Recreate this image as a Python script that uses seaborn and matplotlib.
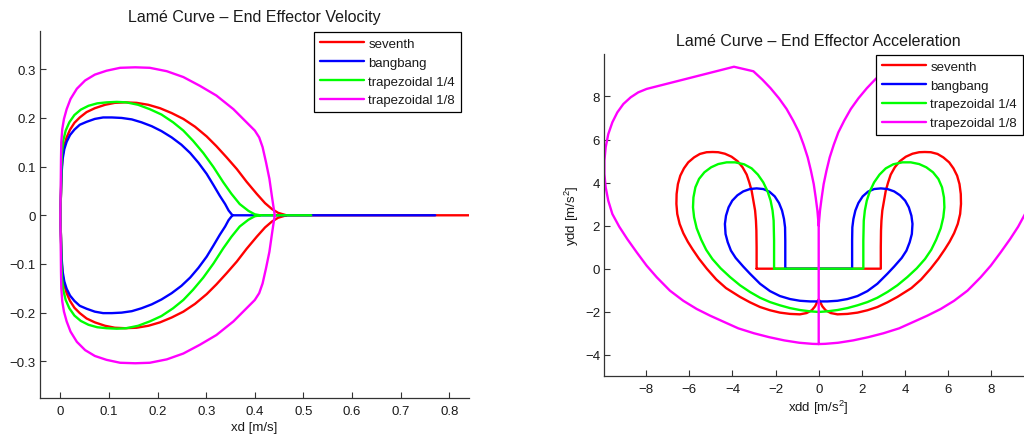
import matplotlib
matplotlib.use("Agg")
import matplotlib.pyplot as plt
import pandas as pd
import seaborn as sns
from matplotlib.lines import Line2D

# ---------------------------------------------------------------- series
series_names = ["seventh", "bangbang", "trapezoidal 1/4", "trapezoidal 1/8"]
series_colors = ["#ff0000", "#0000ff", "#00ff00", "#ff00ff"]

# ---------------------------------------------------------------- velocity (xd, yd) loops
# upper branch from the origin to where the loop closes on yd = 0,
# lower branch over the same xd positions
seventh_vx = [0, 0.0014, 0.0027, 0.0048, 0.0082, 0.013, 0.020, 0.029, 0.040, 0.054,
              0.071, 0.092, 0.112, 0.133, 0.157, 0.181, 0.205, 0.229, 0.253, 0.277,
              0.301, 0.321, 0.342, 0.363, 0.383, 0.404, 0.421, 0.435, 0.448, 0.465]
seventh_vy_up = [0, 0.047, 0.095, 0.123, 0.143, 0.160, 0.176, 0.190, 0.201, 0.212,
                 0.220, 0.227, 0.231, 0.232, 0.231, 0.227, 0.220, 0.210, 0.198, 0.182,
                 0.162, 0.142, 0.119, 0.095, 0.069, 0.044, 0.025, 0.013, 0.005, 0]
seventh_vy_lo = [0, -0.047, -0.095, -0.123, -0.143, -0.160, -0.176, -0.190, -0.201, -0.212,
                 -0.220, -0.227, -0.231, -0.232, -0.231, -0.227, -0.220, -0.210, -0.198, -0.182,
                 -0.162, -0.142, -0.119, -0.095, -0.069, -0.044, -0.025, -0.013, -0.005, 0]

bangbang_vx = [0, 0.0014, 0.0027, 0.0048, 0.0082, 0.013, 0.020, 0.029, 0.040, 0.054,
               0.071, 0.088, 0.106, 0.126, 0.147, 0.167, 0.188, 0.208, 0.229, 0.249,
               0.267, 0.284, 0.301, 0.315, 0.328, 0.339, 0.346, 0.354]
bangbang_vy_up = [0, 0.047, 0.088, 0.116, 0.136, 0.151, 0.165, 0.176, 0.186, 0.192,
                  0.198, 0.201, 0.201, 0.200, 0.197, 0.191, 0.183, 0.173, 0.160, 0.145,
                  0.128, 0.108, 0.085, 0.062, 0.040, 0.023, 0.010, 0]
bangbang_vy_lo = [0, -0.047, -0.088, -0.116, -0.136, -0.151, -0.165, -0.176, -0.186, -0.192,
                  -0.198, -0.201, -0.201, -0.200, -0.197, -0.191, -0.183, -0.173, -0.160, -0.145,
                  -0.128, -0.108, -0.085, -0.062, -0.040, -0.023, -0.010, 0]

trap4_vx = [0, 0.0014, 0.002, 0.0034, 0.006, 0.011, 0.0185, 0.029, 0.042, 0.058,
            0.076, 0.095, 0.116, 0.136, 0.160, 0.184, 0.208, 0.232, 0.253, 0.273,
            0.294, 0.315, 0.335, 0.352, 0.369, 0.387, 0.400, 0.411]
trap4_vy_up = [0, 0.047, 0.095, 0.129, 0.153, 0.174, 0.191, 0.206, 0.217, 0.225,
               0.230, 0.232, 0.233, 0.232, 0.227, 0.218, 0.207, 0.191, 0.174, 0.153,
               0.128, 0.099, 0.068, 0.044, 0.023, 0.009, 0.002, 0]
trap4_vy_lo = [0, -0.047, -0.095, -0.129, -0.153, -0.174, -0.191, -0.206, -0.217, -0.225,
               -0.230, -0.232, -0.233, -0.232, -0.227, -0.218, -0.207, -0.191, -0.174, -0.153,
               -0.128, -0.099, -0.068, -0.044, -0.023, -0.009, -0.002, 0]

trap8_vx = [0, 0.0007, 0.0014, 0.002, 0.004, 0.0075, 0.013, 0.021, 0.034, 0.051,
            0.071, 0.095, 0.123, 0.154, 0.184, 0.219, 0.253, 0.287, 0.321, 0.356,
            0.383, 0.400, 0.409, 0.416, 0.423, 0.430, 0.435, 0.439, 0.441]
trap8_vy_up = [0, 0.047, 0.116, 0.150, 0.177, 0.198, 0.218, 0.239, 0.260, 0.277,
               0.289, 0.297, 0.303, 0.304, 0.303, 0.296, 0.284, 0.266, 0.246, 0.218,
               0.191, 0.174, 0.160, 0.140, 0.109, 0.075, 0.040, 0.013, 0]
trap8_vy_lo = [0, -0.047, -0.116, -0.150, -0.177, -0.198, -0.218, -0.239, -0.260, -0.277,
               -0.289, -0.297, -0.303, -0.304, -0.303, -0.296, -0.284, -0.266, -0.246, -0.218,
               -0.191, -0.174, -0.160, -0.140, -0.109, -0.075, -0.040, -0.013, 0]

# rest segment on yd = 0 after the motion (None: no rest segment)
vel_tail_end = [0.86, 0.771, 0.516, None]

# ---------------------------------------------------------------- acceleration (xdd, ydd) loops
# left half: from the flat segment up around the left lobe to the bottom centre
# right half: from the bottom centre around the right lobe back down
seventh_ax_L = [-2.88, -2.88, -2.89, -2.91, -2.95, -3.03, -3.11, -3.22, -3.34, -3.53,
                -3.76, -4.04, -4.35, -4.66, -4.92, -5.20, -5.51, -5.78, -6.05, -6.25,
                -6.42, -6.53, -6.59, -6.60, -6.56, -6.45, -6.28, -6.07, -5.85, -5.55,
                -5.19, -4.75, -4.30, -3.65, -3.19, -2.72, -2.26, -1.80, -1.33, -0.87,
                -0.56, -0.32, -0.17, -0.09, -0.03, 0]
seventh_ay_L = [0, 0.99, 1.77, 2.23, 2.70, 3.16, 3.62, 4.01, 4.37, 4.71,
                4.99, 5.20, 5.34, 5.41, 5.42, 5.41, 5.33, 5.17, 4.94, 4.66,
                4.32, 3.93, 3.47, 3.01, 2.54, 2.08, 1.65, 1.25, 0.90, 0.46,
                0.0, -0.50, -0.90, -1.31, -1.56, -1.78, -1.93, -2.04, -2.10, -2.12,
                -2.06, -1.93, -1.75, -1.59, -1.47, -1.43]
seventh_ax_R = [0, 0.03, 0.09, 0.17, 0.32, 0.56,
                0.87, 1.33, 1.80, 2.26, 2.72, 3.19, 3.65, 4.30, 4.75, 5.19,
                5.55, 5.85, 6.07, 6.28, 6.45, 6.56, 6.60, 6.59, 6.53, 6.42,
                6.25, 6.05, 5.78, 5.51, 5.20, 4.92, 4.66, 4.35, 4.04, 3.76,
                3.53, 3.34, 3.22, 3.11, 3.03, 2.95, 2.91, 2.89, 2.88, 2.88]
seventh_ay_R = [-1.43, -1.47, -1.59, -1.75, -1.93, -2.06,
                -2.12, -2.10, -2.04, -1.93, -1.78, -1.56, -1.31, -0.90, -0.50, 0.0,
                0.46, 0.90, 1.25, 1.65, 2.08, 2.54, 3.01, 3.47, 3.93, 4.32,
                4.66, 4.94, 5.17, 5.33, 5.41, 5.42, 5.41, 5.34, 5.20, 4.99,
                4.71, 4.37, 4.01, 3.62, 3.16, 2.70, 2.23, 1.77, 0.99, 0]

bangbang_ax_L = [-1.55, -1.55, -1.56, -1.61, -1.70, -1.84, -2.04, -2.29, -2.57, -2.88,
                 -3.19, -3.50, -3.77, -4.01, -4.18, -4.30, -4.35, -4.32, -4.22, -4.07,
                 -3.85, -3.50, -3.19, -2.72, -2.26, -1.80, -1.33, -0.87, -0.40, 0]
bangbang_ay_L = [0, 1.30, 1.92, 2.31, 2.70, 3.05, 3.36, 3.58, 3.70, 3.73,
                 3.70, 3.59, 3.41, 3.16, 2.85, 2.46, 2.08, 1.61, 1.23, 0.84,
                 0.50, 0.10, -0.23, -0.70, -1.04, -1.27, -1.41, -1.49, -1.52, -1.52]
bangbang_ax_R = [0, 0.40, 0.87, 1.33, 1.80, 2.26, 2.72, 3.19, 3.50, 3.85,
                 4.07, 4.22, 4.32, 4.35, 4.30, 4.18, 4.01, 3.77, 3.50, 3.19,
                 2.88, 2.57, 2.29, 2.04, 1.84, 1.70, 1.61, 1.56, 1.55, 1.55]
bangbang_ay_R = [-1.52, -1.52, -1.49, -1.41, -1.27, -1.04, -0.70, -0.23, 0.10, 0.50,
                 0.84, 1.23, 1.61, 2.08, 2.46, 2.85, 3.16, 3.41, 3.59, 3.70,
                 3.73, 3.70, 3.58, 3.36, 3.05, 2.70, 2.31, 1.92, 1.30, 0]

trap4_ax_L = [-2.07, -2.07, -2.09, -2.14, -2.23, -2.37, -2.57, -2.82, -3.11, -3.46,
              -3.88, -4.27, -4.66, -4.99, -5.30, -5.55, -5.72, -5.81, -5.83, -5.78,
              -5.66, -5.45, -5.22, -4.93, -4.55, -4.11, -3.65, -3.19, -2.72, -2.26,
              -1.80, -1.33, -0.87, -0.40, 0]
trap4_ay_L = [0, 1.30, 2.23, 2.70, 3.16, 3.59, 4.01, 4.37, 4.66, 4.85,
              4.94, 4.94, 4.86, 4.71, 4.48, 4.17, 3.78, 3.31, 2.85, 2.39,
              1.88, 1.35, 0.88, 0.45, 0.02, -0.39, -0.77, -1.08, -1.35, -1.55,
              -1.70, -1.83, -1.92, -1.98, -2.01]
trap4_ax_R = [0, 0.40, 0.87, 1.33, 1.80,
              2.26, 2.72, 3.19, 3.65, 4.11, 4.55, 4.93, 5.22, 5.45, 5.66,
              5.78, 5.83, 5.81, 5.72, 5.55, 5.30, 4.99, 4.66, 4.27, 3.88,
              3.46, 3.11, 2.82, 2.57, 2.37, 2.23, 2.14, 2.09, 2.07, 2.07]
trap4_ay_R = [-2.01, -1.98, -1.92, -1.83, -1.70,
              -1.55, -1.35, -1.08, -0.77, -0.39, 0.02, 0.45, 0.88, 1.35, 1.88,
              2.39, 2.85, 3.31, 3.78, 4.17, 4.48, 4.71, 4.86, 4.94, 4.94,
              4.85, 4.66, 4.37, 4.01, 3.59, 3.16, 2.70, 2.23, 1.30, 0]

# trapezoidal 1/8: both lobes start at the upper cusp and end at the lowest point
trap8_ax_L = [0, -0.06, -0.14, -0.23, -0.36, -0.51, -0.70, -0.91, -1.18, -1.49,
              -1.84, -2.23, -2.61, -3.03, -3.93, -7.98, -8.37, -8.72, -9.06, -9.34,
              -9.57, -9.76, -9.88, -9.94, -9.94, -9.88, -9.76, -9.57, -9.25, -8.88,
              -8.44, -7.98, -7.51, -6.90, -6.28, -5.66, -5.04, -4.42, -3.73, -3.00,
              -2.30, -1.60, -0.90, -0.30, 0]
trap8_ay_L = [2.0, 2.70, 3.31, 3.93, 4.55, 5.17, 5.76, 6.33, 6.87, 7.42,
              7.91, 8.38, 8.78, 9.17, 9.38, 8.35, 8.19, 7.96, 7.65, 7.26,
              6.80, 6.25, 5.64, 5.02, 4.40, 3.78, 3.16, 2.54, 1.95, 1.38,
              0.76, 0.14, -0.40, -1.02, -1.49, -1.87, -2.18, -2.46, -2.77, -3.00,
              -3.18, -3.33, -3.44, -3.49, -3.50]
trap8_ax_R = [0, 0.06, 0.14, 0.23, 0.36, 0.51, 0.70, 0.91, 1.18, 1.49,
              1.84, 2.23, 2.61, 3.03, 3.93, 7.98, 8.37, 8.72, 9.06, 9.34,
              9.57, 9.76, 9.88, 9.94, 9.94, 9.88, 9.76, 9.57, 9.25, 8.88,
              8.44, 7.98, 7.51, 6.90, 6.28, 5.66, 5.04, 4.42, 3.73, 3.00,
              2.30, 1.60, 0.90, 0.30, 0]
trap8_ay_R = [2.0, 2.70, 3.31, 3.93, 4.55, 5.17, 5.76, 6.33, 6.87, 7.42,
              7.91, 8.38, 8.78, 9.17, 9.38, 8.35, 8.19, 7.96, 7.65, 7.26,
              6.80, 6.25, 5.64, 5.02, 4.40, 3.78, 3.16, 2.54, 1.95, 1.38,
              0.76, 0.14, -0.40, -1.02, -1.49, -1.87, -2.18, -2.46, -2.77, -3.00,
              -3.18, -3.33, -3.44, -3.49, -3.50]

# ---------------------------------------------------------------- ticks
vel_xticks = [0, 0.1, 0.2, 0.3, 0.4, 0.5, 0.6, 0.7, 0.8]
vel_xticklabels = ["0", "0.1", "0.2", "0.3", "0.4", "0.5", "0.6", "0.7", "0.8"]
vel_yticks = [-0.3, -0.2, -0.1, 0, 0.1, 0.2, 0.3]
vel_yticklabels = ["\u22120.3", "\u22120.2", "\u22120.1", "0", "0.1", "0.2", "0.3"]
acc_xticks = [-8, -6, -4, -2, 0, 2, 4, 6, 8]
acc_xticklabels = ["\u22128", "\u22126", "\u22124", "\u22122", "0", "2", "4", "6", "8"]
acc_yticks = [-4, -2, 0, 2, 4, 6, 8]
acc_yticklabels = ["\u22124", "\u22122", "0", "2", "4", "6", "8"]


# ---------------------------------------------------------------- build long tables
def velocity_path(xs, y_up, y_lo, tail):
    px, py = [], []
    if tail is not None:
        px.append(tail)
        py.append(0.0)
    px += xs[::-1] + xs[1:]
    py += y_up[::-1] + y_lo[1:]
    return px, py


def accel_path(xl, yl, xr, yr, closed):
    px = xl + xr
    py = yl + yr
    if closed:  # flat segment on ydd = 0 back to the start
        px = px + [xl[0]]
        py = py + [yl[0]]
    return px, py


vel_sets = [
    (seventh_vx, seventh_vy_up, seventh_vy_lo),
    (bangbang_vx, bangbang_vy_up, bangbang_vy_lo),
    (trap4_vx, trap4_vy_up, trap4_vy_lo),
    (trap8_vx, trap8_vy_up, trap8_vy_lo),
]
acc_sets = [
    (seventh_ax_L, seventh_ay_L, seventh_ax_R, seventh_ay_R, True),
    (bangbang_ax_L, bangbang_ay_L, bangbang_ax_R, bangbang_ay_R, True),
    (trap4_ax_L, trap4_ay_L, trap4_ax_R, trap4_ay_R, True),
    (trap8_ax_L, trap8_ay_L, trap8_ax_R, trap8_ay_R, False),
]

vel_frames, acc_frames = [], []
for name, (xs, yu, yl), tail in zip(series_names, vel_sets, vel_tail_end):
    px, py = velocity_path(xs, yu, yl, tail)
    vel_frames.append(pd.DataFrame({"x": px, "y": py, "curve": name}))
for name, (xl, yl, xr, yr, closed) in zip(series_names, acc_sets):
    px, py = accel_path(xl, yl, xr, yr, closed)
    acc_frames.append(pd.DataFrame({"x": px, "y": py, "curve": name}))
vel_df = pd.concat(vel_frames, ignore_index=True)
acc_df = pd.concat(acc_frames, ignore_index=True)

# ---------------------------------------------------------------- style
sns.set_theme(style="ticks")
plt.rcParams["font.family"] = ["Liberation Sans", "DejaVu Sans"]
plt.rcParams["mathtext.fontset"] = "custom"
plt.rcParams["mathtext.rm"] = "Liberation Sans"
plt.rcParams["mathtext.it"] = "Liberation Sans:italic"
plt.rcParams["text.color"] = "#1a1a1a"
plt.rcParams["axes.labelcolor"] = "#1a1a1a"
plt.rcParams["lines.solid_joinstyle"] = "round"

palette = dict(zip(series_names, series_colors))
LW = 1.7

fig = plt.figure(figsize=(10.24, 4.39), dpi=100)
W, H = 1024.0, 439.0
ax1 = fig.add_axes([40 / W, 1 - 399.3 / H, 429 / W, 367 / H])
ax2 = fig.add_axes([604.3 / W, 1 - 376.7 / H, 428.8 / W, 321.4 / H])

for ax, df in ((ax1, vel_df), (ax2, acc_df)):
    sns.lineplot(data=df, x="x", y="y", hue="curve", hue_order=series_names,
                 palette=palette, sort=False, estimator=None, linewidth=LW,
                 legend=False, ax=ax)

ax1.set_xlim(-0.0418, 0.8405)
ax1.set_ylim(-0.376, 0.378)
ax2.set_xlim(-9.944, 9.944)
ax2.set_ylim(-4.97, 9.958)

ax1.set_xticks(vel_xticks)
ax1.set_xticklabels(vel_xticklabels)
ax1.set_yticks(vel_yticks)
ax1.set_yticklabels(vel_yticklabels)
ax2.set_xticks(acc_xticks)
ax2.set_xticklabels(acc_xticklabels)
ax2.set_yticks(acc_yticks)
ax2.set_yticklabels(acc_yticklabels)

for ax in (ax1, ax2):
    sns.despine(ax=ax)
    for s in ("left", "bottom"):
        ax.spines[s].set_color("#333333")
        ax.spines[s].set_linewidth(0.9)
    ax.tick_params(direction="in", length=4, width=0.8, color="#333333",
                   labelsize=9.5, labelcolor="#1a1a1a")
    ax.tick_params(axis="x", pad=5)
    ax.tick_params(axis="y", pad=3)
    ax.set_facecolor("white")

ax1.set_title("Lam\u00e9 Curve \u2013 End Effector Velocity", fontsize=11.5, pad=7.5)
ax2.set_title("Lam\u00e9 Curve \u2013 End Effector Acceleration", fontsize=11.5, pad=7.0)
ax1.set_xlabel("xd [m/s]", fontsize=9.5, labelpad=3)
ax1.set_ylabel("")
ax2.set_xlabel("xdd [m/s$^2$]", fontsize=9.5, labelpad=2)
ax2.set_ylabel("ydd [m/s$^2$]", fontsize=9.5, labelpad=3)

handles = [Line2D([], [], color=c, lw=LW) for c in series_colors]
for ax, anchor in ((ax1, (0.981, 0.999)), (ax2, (0.976, 0.999))):
    leg = ax.legend(handles, series_names, loc="upper right", bbox_to_anchor=anchor,
                    frameon=True, fancybox=False, edgecolor="black", framealpha=1,
                    fontsize=9.5, handlelength=3.3, handletextpad=0.35,
                    labelspacing=0.5, borderpad=0.45, borderaxespad=0)
    leg.get_frame().set_linewidth(0.9)

fig.savefig("out.png", dpi=100, facecolor="white")
